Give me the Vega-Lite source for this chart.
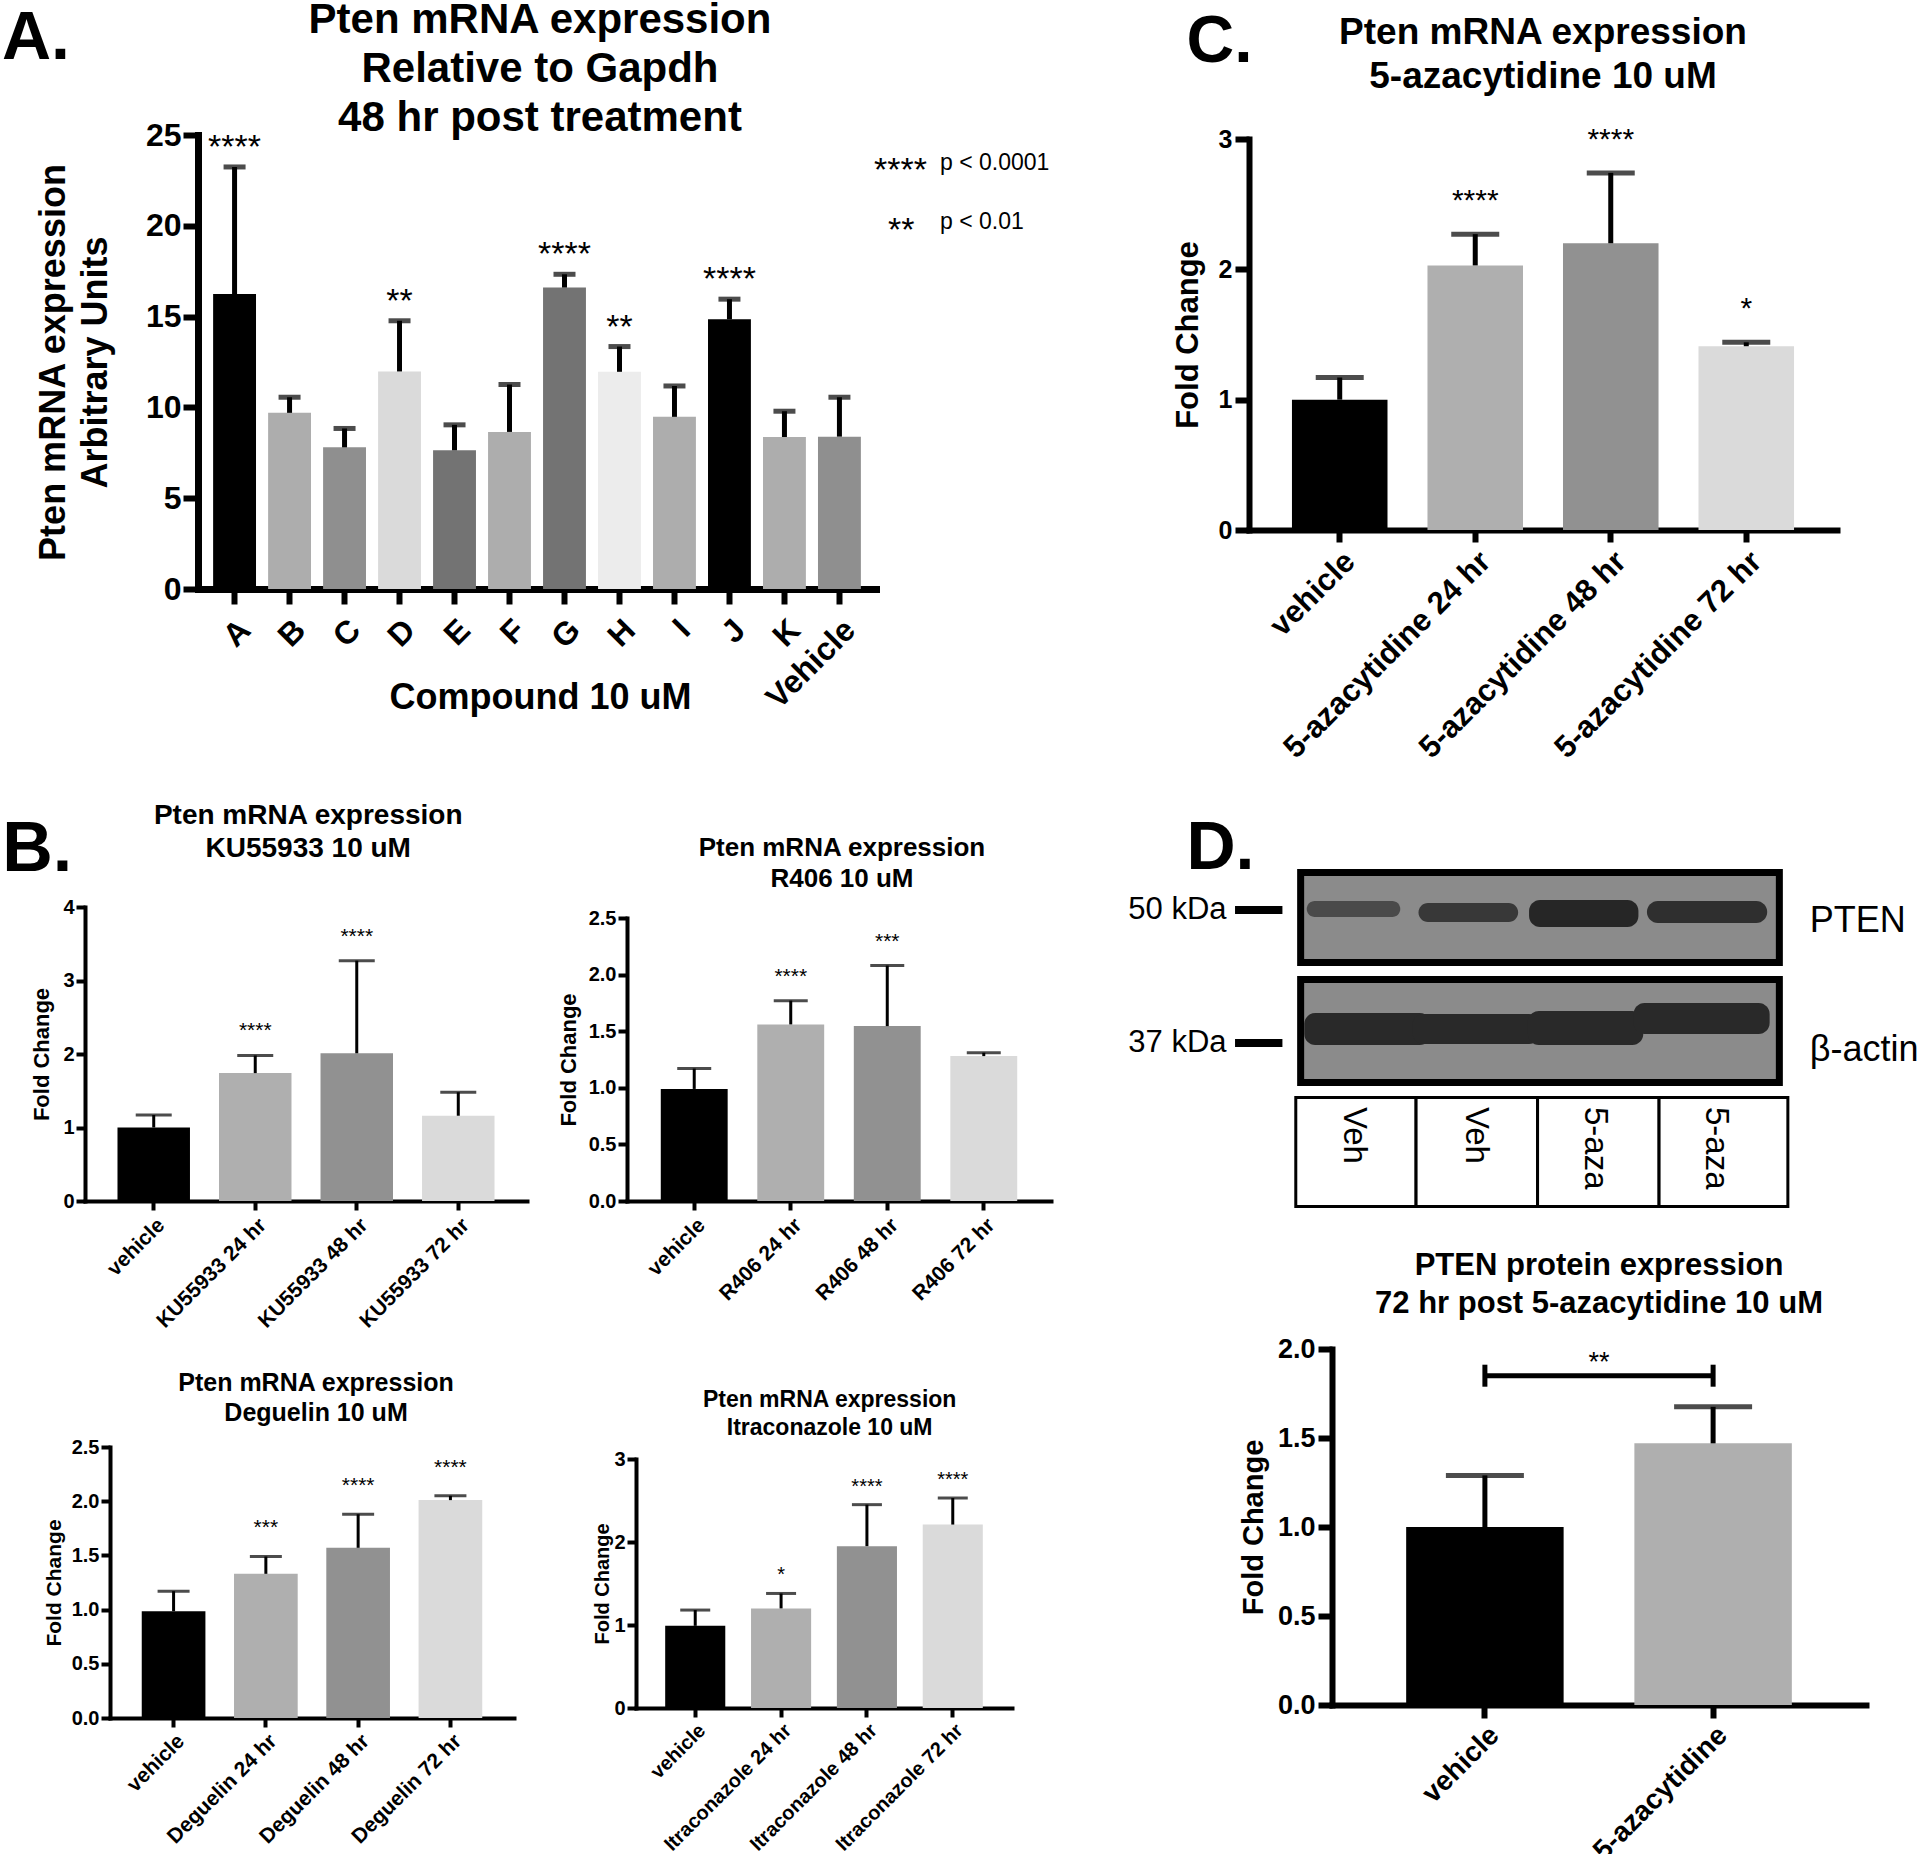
{
"$schema": "https://vega.github.io/schema/vega-lite/v6.json",
"width": 1920, "height": 1854,
"autosize": {"type": "none"},
"padding": 0,
"background": "white",
"config": {
  "view": {"stroke": null},
  "font": "Liberation Sans",
  "axis": {"grid": false, "domainColor": "#000", "tickColor": "#000", "labelColor": "#000", "titleColor": "#000", "labelFont": "Liberation Sans", "titleFont": "Liberation Sans", "labelFontWeight": "bold", "titleFontWeight": "bold", "domainCap": "square", "labelOverlap": false, "labelFlush": false, "labelBound": false, "labelLimit": 0},
  "text": {"font": "Liberation Sans", "color": "#000"}
},
"resolve": {"scale": {"x": "independent", "y": "independent", "color": "independent"}, "axis": {"x": "independent", "y": "independent"}},
"layer": [
 {
  "data": {"values": [
    {"compound": "A", "mean": 16.24, "upper": 23.24, "sig": "****"},
    {"compound": "B", "mean": 9.7, "upper": 10.56, "sig": ""},
    {"compound": "C", "mean": 7.8, "upper": 8.84, "sig": ""},
    {"compound": "D", "mean": 11.98, "upper": 14.77, "sig": "**"},
    {"compound": "E", "mean": 7.64, "upper": 9.04, "sig": ""},
    {"compound": "F", "mean": 8.65, "upper": 11.26, "sig": ""},
    {"compound": "G", "mean": 16.6, "upper": 17.33, "sig": "****"},
    {"compound": "H", "mean": 11.96, "upper": 13.35, "sig": "**"},
    {"compound": "I", "mean": 9.48, "upper": 11.18, "sig": ""},
    {"compound": "J", "mean": 14.85, "upper": 15.96, "sig": "****"},
    {"compound": "K", "mean": 8.37, "upper": 9.79, "sig": ""},
    {"compound": "Vehicle", "mean": 8.39, "upper": 10.56, "sig": ""}
  ]},
  "encoding": {"x": {"field": "compound", "type": "nominal", "sort": null,
    "scale": {"range": [198, 876], "paddingInner": 0.22, "paddingOuter": 0.275},
    "axis": {"orient": "bottom", "offset": -1265, "title": "Compound 10 uM", "titleFontSize": 36, "titleX": 540, "titleY": 108, "titleBaseline": "middle", "titleAlign": "center", "labelAngle": -45, "labelAlign": "right", "labelBaseline": "top", "labelFontSize": 32, "labelPadding": 10, "tickSize": 15, "tickWidth": 6, "domainWidth": 7}}},
  "layer": [
    {"mark": "bar", "encoding": {
      "y": {"field": "mean", "type": "quantitative", "scale": {"domain": [0, 25], "range": [589, 135], "nice": false},
        "axis": {"orient": "left", "offset": -198, "title": ["Pten mRNA expression", "Arbitrary Units"], "values": [0, 5, 10, 15, 20, 25], "format": "d", "labelFontSize": 32, "labelPadding": 2, "titleFontSize": 36, "titleLineHeight": 42, "titleX": -145, "titleY": 362, "titleAngle": -90, "titleBaseline": "middle", "titleAlign": "center", "tickSize": 15, "tickWidth": 6, "domainWidth": 7}},
      "color": {"field": "compound", "type": "nominal", "legend": null,
        "scale": {"domain": ["A", "B", "C", "D", "E", "F", "G", "H", "I", "J", "K", "Vehicle"], "range": ["#000000", "#adadad", "#8f8f8f", "#dadada", "#737373", "#adadad", "#737373", "#ececec", "#adadad", "#000000", "#adadad", "#8f8f8f"]}}}},
    {"mark": {"type": "rule", "strokeWidth": 5, "color": "#000"}, "encoding": {"y": {"field": "mean", "type": "quantitative"}, "y2": {"field": "upper"}}},
    {"mark": {"type": "tick", "size": 22, "thickness": 5, "color": "#000"}, "encoding": {"y": {"field": "upper", "type": "quantitative"}}},
    {"mark": {"type": "text", "baseline": "alphabetic", "dy": -9, "fontSize": 34, "color": "#000"}, "encoding": {"y": {"field": "upper", "type": "quantitative"}, "text": {"field": "sig", "type": "nominal"}}}
  ]
 },
 {
  "data": {"values": [
    {"cat": "vehicle", "mean": 1.0, "upper": 1.17, "sig": ""},
    {"cat": "5-azacytidine 24 hr", "mean": 2.03, "upper": 2.27, "sig": "****"},
    {"cat": "5-azacytidine 48 hr", "mean": 2.2, "upper": 2.74, "sig": "****"},
    {"cat": "5-azacytidine 72 hr", "mean": 1.41, "upper": 1.44, "sig": "*"}
  ]},
  "encoding": {"x": {"field": "cat", "type": "nominal", "sort": null, "scale": {"range": [1249, 1837], "paddingInner": 0.295, "paddingOuter": 0.317},
    "axis": {"orient": "bottom", "offset": -1324, "title": null, "labelAngle": -45, "labelAlign": "right", "labelBaseline": "top", "labelFontSize": 31, "labelPadding": 4, "tickSize": 12, "tickWidth": 6, "domainWidth": 6}}},
  "layer": [
    {"mark": "bar", "encoding": {
      "y": {"field": "mean", "type": "quantitative", "scale": {"domain": [0, 3], "range": [530, 139], "nice": false},
        "axis": {"orient": "left", "offset": -1249, "title": "Fold Change", "values": [0, 1, 2, 3], "format": "d", "labelFontSize": 25, "labelPadding": 3, "titleFontSize": 31, "titleX": -61, "titleY": 334.5, "titleAngle": -90, "titleBaseline": "middle", "titleAlign": "center", "tickSize": 14, "tickWidth": 6, "domainWidth": 6}},
      "color": {"field": "cat", "type": "nominal", "legend": null, "scale": {"domain": ["vehicle", "5-azacytidine 24 hr", "5-azacytidine 48 hr", "5-azacytidine 72 hr"], "range": ["#000000", "#afafaf", "#919191", "#dadada"]}}}},
    {"mark": {"type": "rule", "strokeWidth": 5, "color": "#000"}, "encoding": {"y": {"field": "mean", "type": "quantitative"}, "y2": {"field": "upper"}}},
    {"mark": {"type": "tick", "size": 48, "thickness": 5, "color": "#000"}, "encoding": {"y": {"field": "upper", "type": "quantitative"}}},
    {"mark": {"type": "text", "baseline": "alphabetic", "dy": -24, "fontSize": 30, "color": "#000"}, "encoding": {"y": {"field": "upper", "type": "quantitative"}, "text": {"field": "sig", "type": "nominal"}}}
  ]
 },
 {
  "data": {"values": [
    {"cat": "vehicle", "mean": 1.0, "upper": 1.17, "sig": ""},
    {"cat": "KU55933 24 hr", "mean": 1.74, "upper": 1.98, "sig": "****"},
    {"cat": "KU55933 48 hr", "mean": 2.01, "upper": 3.27, "sig": "****"},
    {"cat": "KU55933 72 hr", "mean": 1.16, "upper": 1.48, "sig": ""}
  ]},
  "encoding": {"x": {"field": "cat", "type": "nominal", "sort": null, "scale": {"range": [85, 527], "paddingInner": 0.286, "paddingOuter": 0.32},
    "axis": {"orient": "bottom", "offset": -653, "title": null, "labelAngle": -45, "labelAlign": "right", "labelBaseline": "top", "labelFontSize": 21, "labelPadding": 4, "tickSize": 9, "tickWidth": 4, "domainWidth": 4}}},
  "layer": [
    {"mark": "bar", "encoding": {
      "y": {"field": "mean", "type": "quantitative", "scale": {"domain": [0, 4], "range": [1201, 907], "nice": false},
        "axis": {"orient": "left", "offset": -85, "title": "Fold Change", "values": [0, 1, 2, 3, 4], "format": "d", "labelFontSize": 20, "labelPadding": 2, "titleFontSize": 22, "titleX": -44, "titleY": 1054, "titleAngle": -90, "titleBaseline": "middle", "titleAlign": "center", "tickSize": 9, "tickWidth": 4, "domainWidth": 4}},
      "color": {"field": "cat", "type": "nominal", "legend": null, "scale": {"domain": ["vehicle", "KU55933 24 hr", "KU55933 48 hr", "KU55933 72 hr"], "range": ["#000000", "#afafaf", "#919191", "#dadada"]}}}},
    {"mark": {"type": "rule", "strokeWidth": 3, "color": "#000"}, "encoding": {"y": {"field": "mean", "type": "quantitative"}, "y2": {"field": "upper"}}},
    {"mark": {"type": "tick", "size": 36, "thickness": 3, "color": "#000"}, "encoding": {"y": {"field": "upper", "type": "quantitative"}}},
    {"mark": {"type": "text", "baseline": "alphabetic", "dy": -18, "fontSize": 21, "color": "#000"}, "encoding": {"y": {"field": "upper", "type": "quantitative"}, "text": {"field": "sig", "type": "nominal"}}}
  ]
 },
 {
  "data": {"values": [
    {"cat": "vehicle", "mean": 0.99, "upper": 1.17, "sig": ""},
    {"cat": "R406 24 hr", "mean": 1.56, "upper": 1.77, "sig": "****"},
    {"cat": "R406 48 hr", "mean": 1.545, "upper": 2.08, "sig": "***"},
    {"cat": "R406 72 hr", "mean": 1.28, "upper": 1.31, "sig": ""}
  ]},
  "encoding": {"x": {"field": "cat", "type": "nominal", "sort": null, "scale": {"range": [627, 1051], "paddingInner": 0.307, "paddingOuter": 0.35},
    "axis": {"orient": "bottom", "offset": -653, "title": null, "labelAngle": -45, "labelAlign": "right", "labelBaseline": "top", "labelFontSize": 21, "labelPadding": 4, "tickSize": 9, "tickWidth": 4, "domainWidth": 4}}},
  "layer": [
    {"mark": "bar", "encoding": {
      "y": {"field": "mean", "type": "quantitative", "scale": {"domain": [0, 2.5], "range": [1201, 918], "nice": false},
        "axis": {"orient": "left", "offset": -627, "title": "Fold Change", "values": [0, 0.5, 1, 1.5, 2, 2.5], "format": ".1f", "labelFontSize": 20, "labelPadding": 2, "titleFontSize": 22, "titleX": -59, "titleY": 1059.5, "titleAngle": -90, "titleBaseline": "middle", "titleAlign": "center", "tickSize": 9, "tickWidth": 4, "domainWidth": 4}},
      "color": {"field": "cat", "type": "nominal", "legend": null, "scale": {"domain": ["vehicle", "R406 24 hr", "R406 48 hr", "R406 72 hr"], "range": ["#000000", "#afafaf", "#919191", "#dadada"]}}}},
    {"mark": {"type": "rule", "strokeWidth": 3, "color": "#000"}, "encoding": {"y": {"field": "mean", "type": "quantitative"}, "y2": {"field": "upper"}}},
    {"mark": {"type": "tick", "size": 34, "thickness": 3, "color": "#000"}, "encoding": {"y": {"field": "upper", "type": "quantitative"}}},
    {"mark": {"type": "text", "baseline": "alphabetic", "dy": -18, "fontSize": 21, "color": "#000"}, "encoding": {"y": {"field": "upper", "type": "quantitative"}, "text": {"field": "sig", "type": "nominal"}}}
  ]
 },
 {
  "data": {"values": [
    {"cat": "vehicle", "mean": 0.985, "upper": 1.17, "sig": ""},
    {"cat": "Deguelin 24 hr", "mean": 1.33, "upper": 1.49, "sig": "***"},
    {"cat": "Deguelin 48 hr", "mean": 1.57, "upper": 1.88, "sig": "****"},
    {"cat": "Deguelin 72 hr", "mean": 2.01, "upper": 2.05, "sig": "****"}
  ]},
  "encoding": {"x": {"field": "cat", "type": "nominal", "sort": null, "scale": {"range": [110, 514], "paddingInner": 0.31, "paddingOuter": 0.344},
    "axis": {"orient": "bottom", "offset": -136, "title": null, "labelAngle": -45, "labelAlign": "right", "labelBaseline": "top", "labelFontSize": 21, "labelPadding": 3, "tickSize": 9, "tickWidth": 4, "domainWidth": 4}}},
  "layer": [
    {"mark": "bar", "encoding": {
      "y": {"field": "mean", "type": "quantitative", "scale": {"domain": [0, 2.5], "range": [1718, 1447], "nice": false},
        "axis": {"orient": "left", "offset": -110, "title": "Fold Change", "values": [0, 0.5, 1, 1.5, 2, 2.5], "format": ".1f", "labelFontSize": 20, "labelPadding": 2, "titleFontSize": 21, "titleX": -56, "titleY": 1582.5, "titleAngle": -90, "titleBaseline": "middle", "titleAlign": "center", "tickSize": 9, "tickWidth": 4, "domainWidth": 4}},
      "color": {"field": "cat", "type": "nominal", "legend": null, "scale": {"domain": ["vehicle", "Deguelin 24 hr", "Deguelin 48 hr", "Deguelin 72 hr"], "range": ["#000000", "#afafaf", "#919191", "#dadada"]}}}},
    {"mark": {"type": "rule", "strokeWidth": 3, "color": "#000"}, "encoding": {"y": {"field": "mean", "type": "quantitative"}, "y2": {"field": "upper"}}},
    {"mark": {"type": "tick", "size": 32, "thickness": 3, "color": "#000"}, "encoding": {"y": {"field": "upper", "type": "quantitative"}}},
    {"mark": {"type": "text", "baseline": "alphabetic", "dy": -22, "fontSize": 21, "color": "#000"}, "encoding": {"y": {"field": "upper", "type": "quantitative"}, "text": {"field": "sig", "type": "nominal"}}}
  ]
 },
 {
  "data": {"values": [
    {"cat": "vehicle", "mean": 0.99, "upper": 1.18, "sig": ""},
    {"cat": "Itraconazole 24 hr", "mean": 1.2, "upper": 1.38, "sig": "*"},
    {"cat": "Itraconazole 48 hr", "mean": 1.95, "upper": 2.45, "sig": "****"},
    {"cat": "Itraconazole 72 hr", "mean": 2.21, "upper": 2.53, "sig": "****"}
  ]},
  "encoding": {"x": {"field": "cat", "type": "nominal", "sort": null, "scale": {"range": [636, 1012], "paddingInner": 0.3, "paddingOuter": 0.34},
    "axis": {"orient": "bottom", "offset": -146, "title": null, "labelAngle": -45, "labelAlign": "right", "labelBaseline": "top", "labelFontSize": 20, "labelPadding": 3, "tickSize": 9, "tickWidth": 4, "domainWidth": 4}}},
  "layer": [
    {"mark": "bar", "encoding": {
      "y": {"field": "mean", "type": "quantitative", "scale": {"domain": [0, 3], "range": [1708, 1459], "nice": false},
        "axis": {"orient": "left", "offset": -636, "title": "Fold Change", "values": [0, 1, 2, 3], "format": "d", "labelFontSize": 20, "labelPadding": 2, "titleFontSize": 20, "titleX": -34, "titleY": 1583.5, "titleAngle": -90, "titleBaseline": "middle", "titleAlign": "center", "tickSize": 9, "tickWidth": 4, "domainWidth": 4}},
      "color": {"field": "cat", "type": "nominal", "legend": null, "scale": {"domain": ["vehicle", "Itraconazole 24 hr", "Itraconazole 48 hr", "Itraconazole 72 hr"], "range": ["#000000", "#afafaf", "#919191", "#dadada"]}}}},
    {"mark": {"type": "rule", "strokeWidth": 3, "color": "#000"}, "encoding": {"y": {"field": "mean", "type": "quantitative"}, "y2": {"field": "upper"}}},
    {"mark": {"type": "tick", "size": 30, "thickness": 3, "color": "#000"}, "encoding": {"y": {"field": "upper", "type": "quantitative"}}},
    {"mark": {"type": "text", "baseline": "alphabetic", "dy": -12, "fontSize": 20, "color": "#000"}, "encoding": {"y": {"field": "upper", "type": "quantitative"}, "text": {"field": "sig", "type": "nominal"}}}
  ]
 },
 {
  "data": {"values": [
    {"cat": "vehicle", "mean": 1.0, "upper": 1.29},
    {"cat": "5-azacytidine", "mean": 1.47, "upper": 1.675}
  ]},
  "encoding": {"x": {"field": "cat", "type": "nominal", "sort": null, "scale": {"range": [1332, 1866], "paddingInner": 0.31, "paddingOuter": 0.325},
    "axis": {"orient": "bottom", "offset": -149, "title": null, "labelAngle": -45, "labelAlign": "right", "labelBaseline": "top", "labelFontSize": 28, "labelPadding": 3, "tickSize": 13, "tickWidth": 6, "domainWidth": 6}}},
  "layer": [
    {"mark": "bar", "encoding": {
      "y": {"field": "mean", "type": "quantitative", "scale": {"domain": [0, 2], "range": [1705, 1349], "nice": false},
        "axis": {"orient": "left", "offset": -1332, "title": "Fold Change", "values": [0, 0.5, 1, 1.5, 2], "format": ".1f", "labelFontSize": 27, "labelPadding": 3, "titleFontSize": 29, "titleX": -79, "titleY": 1527, "titleAngle": -90, "titleBaseline": "middle", "titleAlign": "center", "tickSize": 14, "tickWidth": 6, "domainWidth": 6}},
      "color": {"field": "cat", "type": "nominal", "legend": null, "scale": {"domain": ["vehicle", "5-azacytidine"], "range": ["#000000", "#afafaf"]}}}},
    {"mark": {"type": "rule", "strokeWidth": 5, "color": "#000"}, "encoding": {"y": {"field": "mean", "type": "quantitative"}, "y2": {"field": "upper"}}},
    {"mark": {"type": "tick", "size": 78, "thickness": 5, "color": "#000"}, "encoding": {"y": {"field": "upper", "type": "quantitative"}}},
    {"data": {"values": [{"cat": "vehicle", "bracket": 1.85}, {"cat": "5-azacytidine", "bracket": 1.85}]},
     "mark": {"type": "line", "strokeWidth": 5, "color": "#000"},
     "encoding": {"y": {"field": "bracket", "type": "quantitative"}}},
    {"data": {"values": [{"cat": "vehicle", "bracket": 1.85}, {"cat": "5-azacytidine", "bracket": 1.85}]},
     "mark": {"type": "point", "shape": "M0,-1V1", "size": 484, "filled": false, "stroke": "#000", "strokeWidth": 5, "opacity": 1},
     "encoding": {"y": {"field": "bracket", "type": "quantitative"}}}
  ]
 },
 {
  "encoding": {
    "x": {"type": "quantitative", "scale": {"domain": [0, 4], "range": [1297, 1783], "nice": false, "zero": false}, "axis": null},
    "y": {"type": "quantitative", "scale": {"domain": [0, 33.9], "range": [869, 1208], "nice": false, "zero": false}, "axis": null}
  },
  "layer": [
    {"data": {"values": [
        {"blot": "PTEN", "x1": 0.03, "x2": 3.97, "y1": 0.35, "y2": 9.35},
        {"blot": "actin", "x1": 0.03, "x2": 3.97, "y1": 11.05, "y2": 21.35}]},
     "mark": {"type": "rect", "fill": "#8b8b8b", "stroke": "#000", "strokeWidth": 7},
     "encoding": {"x": {"field": "x1", "type": "quantitative"}, "x2": {"field": "x2"}, "y": {"field": "y1", "type": "quantitative"}, "y2": {"field": "y2"}}},
    {"data": {"values": [
        {"protein": "PTEN", "lane": 1, "intensity": 0.62, "x1": 0.08, "x2": 0.85, "y1": 3.2, "y2": 4.8},
        {"protein": "PTEN", "lane": 2, "intensity": 0.8, "x1": 1.0, "x2": 1.82, "y1": 3.4, "y2": 5.3},
        {"protein": "PTEN", "lane": 3, "intensity": 1.0, "x1": 1.91, "x2": 2.81, "y1": 3.1, "y2": 5.8},
        {"protein": "PTEN", "lane": 4, "intensity": 0.9, "x1": 2.88, "x2": 3.87, "y1": 3.2, "y2": 5.4},
        {"protein": "actin", "lane": 1, "intensity": 0.97, "x1": 0.06, "x2": 1.1, "y1": 14.4, "y2": 17.6},
        {"protein": "actin", "lane": 2, "intensity": 0.97, "x1": 0.95, "x2": 2.0, "y1": 14.5, "y2": 17.5},
        {"protein": "actin", "lane": 3, "intensity": 0.97, "x1": 1.9, "x2": 2.85, "y1": 14.2, "y2": 17.6},
        {"protein": "actin", "lane": 4, "intensity": 0.97, "x1": 2.77, "x2": 3.89, "y1": 13.4, "y2": 16.5}]},
     "mark": {"type": "rect", "cornerRadius": 11},
     "encoding": {"x": {"field": "x1", "type": "quantitative"}, "x2": {"field": "x2"}, "y": {"field": "y1", "type": "quantitative"}, "y2": {"field": "y2"},
       "color": {"field": "intensity", "type": "quantitative", "legend": null, "scale": {"domain": [0, 1], "range": ["#8b8b8b", "#262626"]}}}},
    {"data": {"values": [
        {"lane": 1, "x1": -0.01, "x2": 0.98, "y1": 22.85, "y2": 33.75},
        {"lane": 2, "x1": 0.98, "x2": 1.98, "y1": 22.85, "y2": 33.75},
        {"lane": 3, "x1": 1.98, "x2": 2.98, "y1": 22.85, "y2": 33.75},
        {"lane": 4, "x1": 2.98, "x2": 4.04, "y1": 22.85, "y2": 33.75}]},
     "mark": {"type": "rect", "fill": "#ffffff", "stroke": "#000", "strokeWidth": 3},
     "encoding": {"x": {"field": "x1", "type": "quantitative"}, "x2": {"field": "x2"}, "y": {"field": "y1", "type": "quantitative"}, "y2": {"field": "y2"}}},
    {"data": {"values": [
        {"marker": "50 kDa", "x1": -0.51, "x2": -0.12, "y": 4.1},
        {"marker": "37 kDa", "x1": -0.51, "x2": -0.12, "y": 17.4}]},
     "mark": {"type": "rule", "strokeWidth": 8, "color": "#000"},
     "encoding": {"x": {"field": "x1", "type": "quantitative"}, "x2": {"field": "x2"}, "y": {"field": "y", "type": "quantitative"}}},
    {"data": {"values": [
        {"marker": "50 kDa", "x": -0.58, "y": 4.1},
        {"marker": "37 kDa", "x": -0.58, "y": 17.4}]},
     "mark": {"type": "text", "align": "right", "baseline": "middle", "fontSize": 31, "color": "#000"},
     "encoding": {"x": {"field": "x", "type": "quantitative"}, "y": {"field": "y", "type": "quantitative"}, "text": {"field": "marker", "type": "nominal"}}},
    {"data": {"values": [
        {"protein": "PTEN", "x": 4.22, "y": 5.2},
        {"protein": "β-actin", "x": 4.22, "y": 18.1}]},
     "mark": {"type": "text", "align": "left", "baseline": "middle", "fontSize": 36, "color": "#000"},
     "encoding": {"x": {"field": "x", "type": "quantitative"}, "y": {"field": "y", "type": "quantitative"}, "text": {"field": "protein", "type": "nominal"}}},
    {"data": {"values": [
        {"treatment": "Veh", "x": 0.47, "y": 23.8},
        {"treatment": "Veh", "x": 1.47, "y": 23.8},
        {"treatment": "5-aza", "x": 2.45, "y": 23.8},
        {"treatment": "5-aza", "x": 3.45, "y": 23.8}]},
     "mark": {"type": "text", "angle": 90, "align": "left", "baseline": "middle", "fontSize": 33, "color": "#000"},
     "encoding": {"x": {"field": "x", "type": "quantitative"}, "y": {"field": "y", "type": "quantitative"}, "text": {"field": "treatment", "type": "nominal"}}},
    {"data": {"values": [{"panel": "D."}]},
     "mark": {"type": "text", "align": "left", "baseline": "alphabetic", "fontSize": 68, "fontWeight": "bold", "color": "#000"},
     "encoding": {"x": {"datum": -0.9095, "type": "quantitative"}, "y": {"datum": -0.05, "type": "quantitative"}, "text": {"field": "panel", "type": "nominal"}}}
  ]
 },
 {"data": {"values": [{}]},
  "mark": {"type": "text", "text": ["Pten mRNA expression", "Relative to Gapdh", "48 hr post treatment"], "align": "center", "baseline": "top", "fontSize": 42, "lineHeight": 49, "fontWeight": "bold", "color": "#000"},
  "encoding": {"x": {"datum": 0.5044, "type": "quantitative", "scale": {"domain": [0, 1], "range": [198, 876], "nice": false, "zero": false}, "axis": null},
               "y": {"datum": 1.2974, "type": "quantitative", "scale": {"domain": [0, 1], "range": [589, 135], "nice": false, "zero": false}, "axis": null}}},
 {"data": {"values": [{}]},
  "mark": {"type": "text", "text": "A.", "align": "left", "baseline": "alphabetic", "fontSize": 68, "fontWeight": "bold", "color": "#000"},
  "encoding": {"x": {"datum": -0.2891, "type": "quantitative", "scale": {"domain": [0, 1], "range": [198, 876], "nice": false, "zero": false}, "axis": null},
               "y": {"datum": 1.1685, "type": "quantitative", "scale": {"domain": [0, 1], "range": [589, 135], "nice": false, "zero": false}, "axis": null}}},
 {"data": {"values": [{}]},
  "mark": {"type": "text", "text": "****", "align": "left", "baseline": "alphabetic", "fontSize": 34, "color": "#000"},
  "encoding": {"x": {"datum": 0.997, "type": "quantitative", "scale": {"domain": [0, 1], "range": [198, 876], "nice": false, "zero": false}, "axis": null},
               "y": {"datum": 0.8976, "type": "quantitative", "scale": {"domain": [0, 1], "range": [589, 135], "nice": false, "zero": false}, "axis": null}}},
 {"data": {"values": [{}]},
  "mark": {"type": "text", "text": "p < 0.0001", "align": "left", "baseline": "alphabetic", "fontSize": 23, "color": "#000"},
  "encoding": {"x": {"datum": 1.0944, "type": "quantitative", "scale": {"domain": [0, 1], "range": [198, 876], "nice": false, "zero": false}, "axis": null},
               "y": {"datum": 0.9222, "type": "quantitative", "scale": {"domain": [0, 1], "range": [589, 135], "nice": false, "zero": false}, "axis": null}}},
 {"data": {"values": [{}]},
  "mark": {"type": "text", "text": "**", "align": "left", "baseline": "alphabetic", "fontSize": 34, "color": "#000"},
  "encoding": {"x": {"datum": 1.0177, "type": "quantitative", "scale": {"domain": [0, 1], "range": [198, 876], "nice": false, "zero": false}, "axis": null},
               "y": {"datum": 0.7676, "type": "quantitative", "scale": {"domain": [0, 1], "range": [589, 135], "nice": false, "zero": false}, "axis": null}}},
 {"data": {"values": [{}]},
  "mark": {"type": "text", "text": "p < 0.01", "align": "left", "baseline": "alphabetic", "fontSize": 23, "color": "#000"},
  "encoding": {"x": {"datum": 1.0944, "type": "quantitative", "scale": {"domain": [0, 1], "range": [198, 876], "nice": false, "zero": false}, "axis": null},
               "y": {"datum": 0.7923, "type": "quantitative", "scale": {"domain": [0, 1], "range": [589, 135], "nice": false, "zero": false}, "axis": null}}},
 {"data": {"values": [{}]},
  "mark": {"type": "text", "text": ["Pten mRNA expression", "5-azacytidine 10 uM"], "align": "center", "baseline": "top", "fontSize": 37, "lineHeight": 44, "fontWeight": "bold", "color": "#000"},
  "encoding": {"x": {"datum": 0.5, "type": "quantitative", "scale": {"domain": [0, 1], "range": [1249, 1837], "nice": false, "zero": false}, "axis": null},
               "y": {"datum": 1.3166, "type": "quantitative", "scale": {"domain": [0, 1], "range": [530, 139], "nice": false, "zero": false}, "axis": null}}},
 {"data": {"values": [{}]},
  "mark": {"type": "text", "text": "C.", "align": "left", "baseline": "alphabetic", "fontSize": 66, "fontWeight": "bold", "color": "#000"},
  "encoding": {"x": {"datum": -0.1063, "type": "quantitative", "scale": {"domain": [0, 1], "range": [1249, 1837], "nice": false, "zero": false}, "axis": null},
               "y": {"datum": 1.1957, "type": "quantitative", "scale": {"domain": [0, 1], "range": [530, 139], "nice": false, "zero": false}, "axis": null}}},
 {"data": {"values": [{}]},
  "mark": {"type": "text", "text": ["Pten mRNA expression", "KU55933 10 uM"], "align": "center", "baseline": "top", "fontSize": 28, "lineHeight": 33, "fontWeight": "bold", "color": "#000"},
  "encoding": {"x": {"datum": 0.505, "type": "quantitative", "scale": {"domain": [0, 1], "range": [85, 527], "nice": false, "zero": false}, "axis": null},
               "y": {"datum": 1.3571, "type": "quantitative", "scale": {"domain": [0, 1], "range": [1201, 907], "nice": false, "zero": false}, "axis": null}}},
 {"data": {"values": [{}]},
  "mark": {"type": "text", "text": "B.", "align": "left", "baseline": "alphabetic", "fontSize": 70, "fontWeight": "bold", "color": "#000"},
  "encoding": {"x": {"datum": -0.1875, "type": "quantitative", "scale": {"domain": [0, 1], "range": [85, 527], "nice": false, "zero": false}, "axis": null},
               "y": {"datum": 1.1241, "type": "quantitative", "scale": {"domain": [0, 1], "range": [1201, 907], "nice": false, "zero": false}, "axis": null}}},
 {"data": {"values": [{}]},
  "mark": {"type": "text", "text": ["Pten mRNA expression", "R406 10 uM"], "align": "center", "baseline": "top", "fontSize": 26, "lineHeight": 31, "fontWeight": "bold", "color": "#000"},
  "encoding": {"x": {"datum": 0.507, "type": "quantitative", "scale": {"domain": [0, 1], "range": [627, 1051], "nice": false, "zero": false}, "axis": null},
               "y": {"datum": 1.2919, "type": "quantitative", "scale": {"domain": [0, 1], "range": [1201, 918], "nice": false, "zero": false}, "axis": null}}},
 {"data": {"values": [{}]},
  "mark": {"type": "text", "text": ["Pten mRNA expression", "Deguelin 10 uM"], "align": "center", "baseline": "top", "fontSize": 25, "lineHeight": 30, "fontWeight": "bold", "color": "#000"},
  "encoding": {"x": {"datum": 0.51, "type": "quantitative", "scale": {"domain": [0, 1], "range": [110, 514], "nice": false, "zero": false}, "axis": null},
               "y": {"datum": 1.2804, "type": "quantitative", "scale": {"domain": [0, 1], "range": [1718, 1447], "nice": false, "zero": false}, "axis": null}}},
 {"data": {"values": [{}]},
  "mark": {"type": "text", "text": ["Pten mRNA expression", "Itraconazole 10 uM"], "align": "center", "baseline": "top", "fontSize": 23, "lineHeight": 28, "fontWeight": "bold", "color": "#000"},
  "encoding": {"x": {"datum": 0.515, "type": "quantitative", "scale": {"domain": [0, 1], "range": [636, 1012], "nice": false, "zero": false}, "axis": null},
               "y": {"datum": 1.2803, "type": "quantitative", "scale": {"domain": [0, 1], "range": [1708, 1459], "nice": false, "zero": false}, "axis": null}}},
 {"data": {"values": [{}]},
  "mark": {"type": "text", "text": ["PTEN protein expression", "72 hr post 5-azacytidine 10 uM"], "align": "center", "baseline": "top", "fontSize": 31, "lineHeight": 38, "fontWeight": "bold", "color": "#000"},
  "encoding": {"x": {"datum": 0.5, "type": "quantitative", "scale": {"domain": [0, 1], "range": [1332, 1866], "nice": false, "zero": false}, "axis": null},
               "y": {"datum": 1.2753, "type": "quantitative", "scale": {"domain": [0, 1], "range": [1705, 1349], "nice": false, "zero": false}, "axis": null}}},
 {"data": {"values": [{}]},
  "mark": {"type": "text", "text": "**", "align": "center", "baseline": "alphabetic", "fontSize": 27, "color": "#000"},
  "encoding": {"x": {"datum": 0.5, "type": "quantitative", "scale": {"domain": [0, 1], "range": [1332, 1866], "nice": false, "zero": false}, "axis": null},
               "y": {"datum": 0.9396, "type": "quantitative", "scale": {"domain": [0, 1], "range": [1705, 1349], "nice": false, "zero": false}, "axis": null}}}
]
}
